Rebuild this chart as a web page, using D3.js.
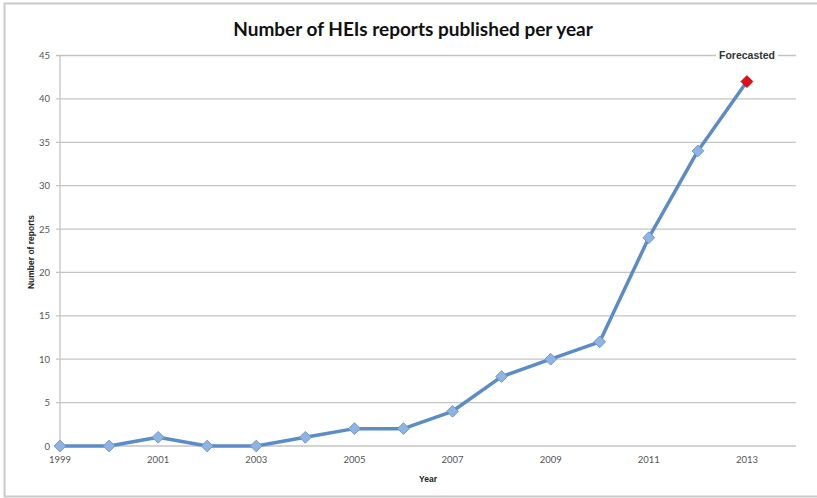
<!DOCTYPE html>
<html>
<head>
<meta charset="utf-8">
<script src="https://cdn.jsdelivr.net/npm/d3@7/dist/d3.min.js"></script>
<style>
  html, body { margin: 0; padding: 0; background: #fff; }
  svg { display: block; }
</style>
</head>
<body>
<svg id="chart" width="817" height="498"></svg>
<script>
// Reports published per year (2013 is a forecast)
const years = [1999, 2000, 2001, 2002, 2003, 2004, 2005, 2006, 2007, 2008, 2009, 2010, 2011, 2012, 2013];
const reports = [0, 0, 1, 0, 0, 1, 2, 2, 4, 8, 10, 12, 24, 34, 42];
const yTicks = [0, 5, 10, 15, 20, 25, 30, 35, 40, 45];
const xTickLabels = [1999, 2001, 2003, 2005, 2007, 2009, 2011, 2013];
const forecastYear = 2013;

const svg = d3.select("#chart");
const W = 817, H = 498;
const m = { left: 60, right: 21, top: 55.5, bottom: 52 };

// outer frame
svg.append("path")
  .attr("d", `M${W + 2},3.5 H4.5 V496.5 H${W + 2}`)
  .attr("fill", "none").attr("stroke", "#c9c9c9").attr("stroke-width", 2);

const x = d3.scaleLinear().domain([1999, 2014]).range([m.left, W - m.right]);
const y = d3.scaleLinear().domain([0, 45]).range([H - m.bottom, m.top]);

// gridlines
svg.append("g")
  .selectAll("line").data(yTicks).join("line")
  .attr("x1", m.left - 4).attr("x2", W - m.right)
  .attr("y1", d => y(d)).attr("y2", d => y(d))
  .attr("stroke", "#c4c4c4").attr("stroke-width", 1.3);

// y axis line
svg.append("line")
  .attr("x1", m.left).attr("x2", m.left)
  .attr("y1", y(45)).attr("y2", y(0))
  .attr("stroke", "#c4c4c4").attr("stroke-width", 1.3);

// y tick labels
svg.append("g")
  .selectAll("text").data(yTicks).join("text")
  .attr("x", m.left - 10).attr("y", d => y(d) + 3.5)
  .attr("text-anchor", "end")
  .attr("font-family", "Lato, 'Open Sans', sans-serif")
  .attr("font-size", 9.5).attr("fill", "#555")
  .text(d => d);

// x tick labels
svg.append("g")
  .selectAll("text").data(xTickLabels).join("text")
  .attr("x", d => x(d)).attr("y", y(0) + 17)
  .attr("text-anchor", "middle")
  .attr("font-family", "Lato, 'Open Sans', sans-serif")
  .attr("font-size", 9.5).attr("fill", "#555")
  .text(d => d);

// title
svg.append("text")
  .attr("x", 413).attr("y", 36)
  .attr("text-anchor", "middle")
  .attr("font-family", "Lato, 'Open Sans', sans-serif")
  .attr("font-weight", "bold").attr("font-size", 19).attr("fill", "#111")
  .text("Number of HEIs reports published per year");

// axis titles
svg.append("text")
  .attr("x", 428).attr("y", 482)
  .attr("text-anchor", "middle")
  .attr("font-family", "'Liberation Sans', Arial, sans-serif")
  .attr("font-weight", "bold").attr("font-size", 8.5).attr("fill", "#222")
  .text("Year");

svg.append("text")
  .attr("transform", `translate(34,252) rotate(-90)`)
  .attr("text-anchor", "middle")
  .attr("font-family", "'Liberation Sans', Arial, sans-serif")
  .attr("font-weight", "bold").attr("font-size", 8.5).attr("fill", "#222")
  .text("Number of reports");

// "Forecasted" annotation over the top gridline, with a white backing
const fBack = svg.append("rect").attr("fill", "#fff");
const fLabel = svg.append("text")
  .attr("x", 747).attr("y", y(45) + 3.5)
  .attr("text-anchor", "middle")
  .attr("font-family", "'Liberation Sans', Arial, sans-serif")
  .attr("font-weight", "bold").attr("font-size", 10.5).attr("fill", "#333")
  .text("Forecasted");
const bb = fLabel.node().getBBox();
fBack.attr("x", bb.x - 3).attr("y", y(45) - 3)
  .attr("width", bb.width + 6).attr("height", 6);

// series line
const data = years.map((yr, i) => ({ year: yr, value: reports[i] }));
svg.append("path")
  .datum(data)
  .attr("fill", "none")
  .attr("stroke", "#5b8cc7").attr("stroke-width", 3.5)
  .attr("stroke-linejoin", "round")
  .attr("d", d3.line().x(d => x(d.year)).y(d => y(d.value)));

// diamond markers
const diamond = d3.symbol().type(d3.symbolDiamond2).size(88);
svg.append("g")
  .selectAll("path").data(data).join("path")
  .attr("transform", d => `translate(${x(d.year)},${y(d.value)})`)
  .attr("d", diamond)
  .attr("fill", d => d.year === forecastYear ? "#e0101a" : "#8fb3e2")
  .attr("stroke", d => d.year === forecastYear ? "#c00010" : "#6f97cf")
  .attr("stroke-width", 1);
</script>
</body>
</html>
